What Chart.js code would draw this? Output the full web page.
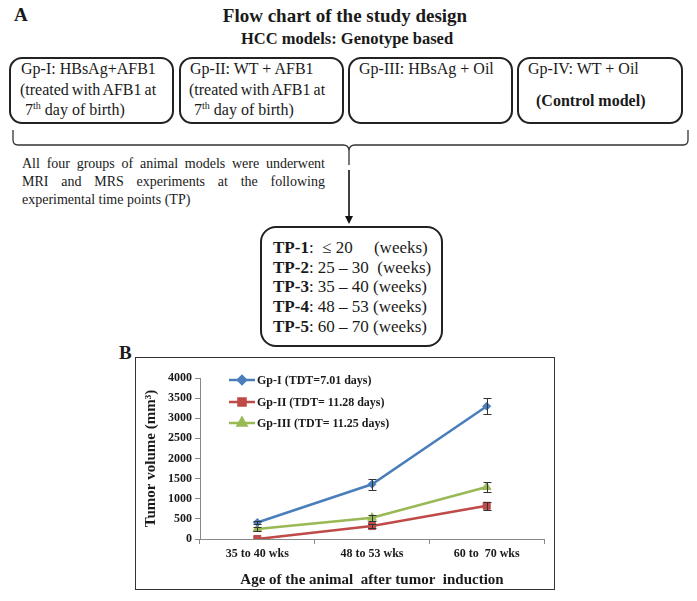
<!DOCTYPE html>
<html>
<head>
    <title>Flow chart of the study design</title>
    <script src="https://cdn.jsdelivr.net/npm/chart.js"></script>
    <style>
        body { margin: 0; background: #fff; font-family: 'Liberation Serif', 'Times New Roman', serif; color: #1a1a1a; }
        #page { position: relative; width: 697px; height: 601px; overflow: hidden; }
        .abs { position: absolute; white-space: nowrap; }
        .box { position: absolute; border: 2px solid #222; border-radius: 13px; box-sizing: border-box; font-size: 16px; line-height: 20.5px; }
        .box sup { font-size: 10px; line-height: 0; }
        .para { position: absolute; left: 22px; top: 155px; width: 303px; font-size: 14px; line-height: 18px; text-align: justify; }
        .tp { position: absolute; left: 260px; top: 226px; width: 183px; height: 121px; border: 2px solid #222; border-radius: 16px; box-sizing: border-box; font-size: 17px; line-height: 19.7px; padding: 10px 0 0 11px; white-space: pre; }
        .chart-box { position: absolute; left: 135px; top: 357px; width: 420px; height: 233px; border: 1px solid #333; box-sizing: border-box; }
    </style>
</head>
<body>
<div id="page">
    <!-- panel A -->
    <div class="abs" style="left:14px; top:4px; font-size:19px; font-weight:bold; line-height:22px;">A</div>
    <div class="abs" style="left:0; width:690px; text-align:center; top:5px; font-size:19px; font-weight:bold; line-height:22px;">Flow chart of the study design</div>
    <div class="abs" style="left:0; width:694px; text-align:center; top:29px; font-size:16.5px; font-weight:bold; line-height:20px;">HCC models: Genotype based</div>

    <div class="box" style="left:9px; top:57px; width:165px; height:67px; padding-left:10px;">Gp-I: HBsAg+AFB1<br><span style="word-spacing:-1px; margin-left:-1px;">(treated with AFB1 at</span><br>&nbsp;7<sup>th</sup> day of birth)</div>
    <div class="box" style="left:179px; top:57px; width:165px; height:67px; padding-left:9px;">Gp-II: WT + AFB1<br><span style="word-spacing:-1px; margin-left:-1px;">(treated with AFB1 at</span><br>&nbsp;7<sup>th</sup> day of birth)</div>
    <div class="box" style="left:348px; top:57px; width:165px; height:67px; padding-left:9px;">Gp-III: HBsAg + Oil</div>
    <div class="box" style="left:517px; top:57px; width:166px; height:67px; padding-left:9px;">Gp-IV: WT + Oil<br><span style="display:inline-block; margin:11px 0 0 8px; font-weight:bold;">(Control model)</span></div>

    <svg class="abs" style="left:0; top:0;" width="697" height="240">
        <path d="M13,130 L13,140 Q13,145 18,145 L343,145 Q349,145 349,151 L349,165 M349,151 Q349,145 355,145 L683,145 Q688,145 688,140 L688,130"
              fill="none" stroke="#333" stroke-width="1.3"/>
        <line x1="349" y1="170" x2="349" y2="218" stroke="#111" stroke-width="1.6"/>
        <path d="M345,216 L353,216 L349,224 Z" fill="#111"/>
    </svg>

    <div class="para">All four groups of animal models were underwent MRI and MRS experiments at the following experimental time points (TP)</div>

    <div class="tp"><b>TP-1</b>:  ≤ 20     (weeks)
<b>TP-2</b>: 25 – 30  (weeks)
<b>TP-3</b>: 35 – 40 (weeks)
<b>TP-4</b>: 48 – 53 (weeks)
<b>TP-5</b>: 60 – 70 (weeks)</div>

    <!-- panel B -->
    <div class="abs" style="left:119px; top:342px; font-size:19px; font-weight:bold; line-height:22px;">B</div>
    <div class="chart-box">
        <canvas id="tumor-chart" width="418" height="231" style="display:block;"></canvas>
    </div>
</div>

<script>
    // 데이터
    const categories = ['35 to 40 wks', '48 to 53 wks', '60 to  70 wks'];
    const yTicks = [0, 500, 1000, 1500, 2000, 2500, 3000, 3500, 4000];

    const gp1Label = 'Gp-I (TDT=7.01 days)';
    const gp1Values = [410, 1360, 3300];
    const gp1Errors = [35, 135, 195];

    const gp2Label = 'Gp-II (TDT= 11.28 days)';
    const gp2Values = [0, 322, 825];
    const gp2Errors = [0, 45, 105];

    const gp3Label = 'Gp-III (TDT= 11.25 days)';
    const gp3Values = [248, 528, 1290];
    const gp3Errors = [60, 80, 125];

    const serif = "'Liberation Serif', 'Times New Roman', serif";

    // 에러바
    const errorBars = {
        id: 'errorBars',
        afterDatasetsDraw(chart) {
            const ctx = chart.ctx;
            const y = chart.scales.y;
            ctx.save();
            ctx.strokeStyle = '#333';
            ctx.lineWidth = 1;
            chart.data.datasets.forEach((ds, i) => {
                chart.getDatasetMeta(i).data.forEach((pt, j) => {
                    const e = ds.errors[j];
                    if (!e) return;
                    const top = Math.round(y.getPixelForValue(ds.data[j] + e)) + 0.5;
                    const bot = Math.round(y.getPixelForValue(ds.data[j] - e)) + 0.5;
                    const x = Math.round(pt.x) + 0.5;
                    ctx.beginPath();
                    ctx.moveTo(x, top); ctx.lineTo(x, bot);
                    ctx.moveTo(x - 4, top); ctx.lineTo(x + 4, top);
                    ctx.moveTo(x - 4, bot); ctx.lineTo(x + 4, bot);
                    ctx.stroke();
                });
            });
            ctx.restore();
        }
    };

    // 차트 안쪽 범례
    const innerLegend = {
        id: 'innerLegend',
        afterDraw(chart) {
            const ctx = chart.ctx;
            const rows = [22, 44, 65];
            ctx.save();
            chart.data.datasets.forEach((ds, i) => {
                const yy = rows[i];
                ctx.strokeStyle = ds.borderColor;
                ctx.lineWidth = 2.5;
                ctx.beginPath();
                ctx.moveTo(93, yy); ctx.lineTo(119, yy);
                ctx.stroke();
                ctx.fillStyle = ds.backgroundColor;
                ctx.strokeStyle = ds.borderColor;
                Chart.helpers.drawPoint(ctx, {
                    pointStyle: ds.pointStyle, radius: ds.pointRadius, rotation: 0, borderWidth: 1
                }, 106, yy);
                ctx.fillStyle = '#1a1a1a';
                ctx.font = 'bold 12px ' + serif;
                ctx.textBaseline = 'middle';
                ctx.fillText(ds.label, 121, yy + 1);
            });
            ctx.restore();
        }
    };

    const ctx = document.getElementById('tumor-chart').getContext('2d');
    new Chart(ctx, {
        type: 'line',
        data: {
            labels: categories,
            datasets: [
                {
                    label: gp1Label, data: gp1Values, errors: gp1Errors,
                    borderColor: '#4a7ebb', backgroundColor: '#4a7ebb',
                    borderWidth: 2.5, pointStyle: 'rectRot', pointRadius: 4, pointBorderWidth: 1
                },
                {
                    label: gp2Label, data: gp2Values, errors: gp2Errors,
                    borderColor: '#be4b48', backgroundColor: '#be4b48',
                    borderWidth: 2.5, pointStyle: 'rect', pointRadius: 5, pointBorderWidth: 1
                },
                {
                    label: gp3Label, data: gp3Values, errors: gp3Errors,
                    borderColor: '#98b954', backgroundColor: '#98b954',
                    borderWidth: 2.5, pointStyle: 'triangle', pointRadius: 5, pointBorderWidth: 1
                }
            ]
        },
        options: {
            responsive: false,
            animation: false,
            devicePixelRatio: 1,
            layout: { padding: { top: 20, right: 10, left: 0, bottom: 0 } },
            plugins: {
                legend: { display: false },
                tooltip: { enabled: false }
            },
            scales: {
                x: {
                    type: 'category',
                    offset: true,
                    afterFit: s => { s.height = 50; },
                    grid: { offset: true, drawOnChartArea: false, drawTicks: true, tickLength: 5, color: '#888' },
                    border: { color: '#888', width: 1 },
                    ticks: { color: '#1a1a1a', font: { family: serif, size: 12, weight: 'bold' }, padding: 3, maxRotation: 0 },
                    title: {
                        display: true, text: 'Age of the animal  after tumor  induction',
                        color: '#1a1a1a', font: { family: serif, size: 15, weight: 'bold' }, padding: { top: 0, bottom: 0 }
                    }
                },
                y: {
                    min: 0, max: 4000,
                    afterFit: s => { s.width = 64; },
                    afterBuildTicks: s => { s.ticks = yTicks.map(v => ({ value: v })); },
                    grid: { drawOnChartArea: false, drawTicks: true, tickLength: 5, color: '#888' },
                    border: { color: '#888', width: 1 },
                    ticks: {
                        color: '#1a1a1a', font: { family: serif, size: 12, weight: 'bold' }, padding: 3,
                        callback: v => String(v)
                    },
                    title: {
                        display: true, text: 'Tumor volume (mm³)',
                        color: '#1a1a1a', font: { family: serif, size: 15, weight: 'bold' }, padding: { top: 6, bottom: 0 }
                    }
                }
            }
        },
        plugins: [errorBars, innerLegend]
    });
</script>
</body>
</html>
